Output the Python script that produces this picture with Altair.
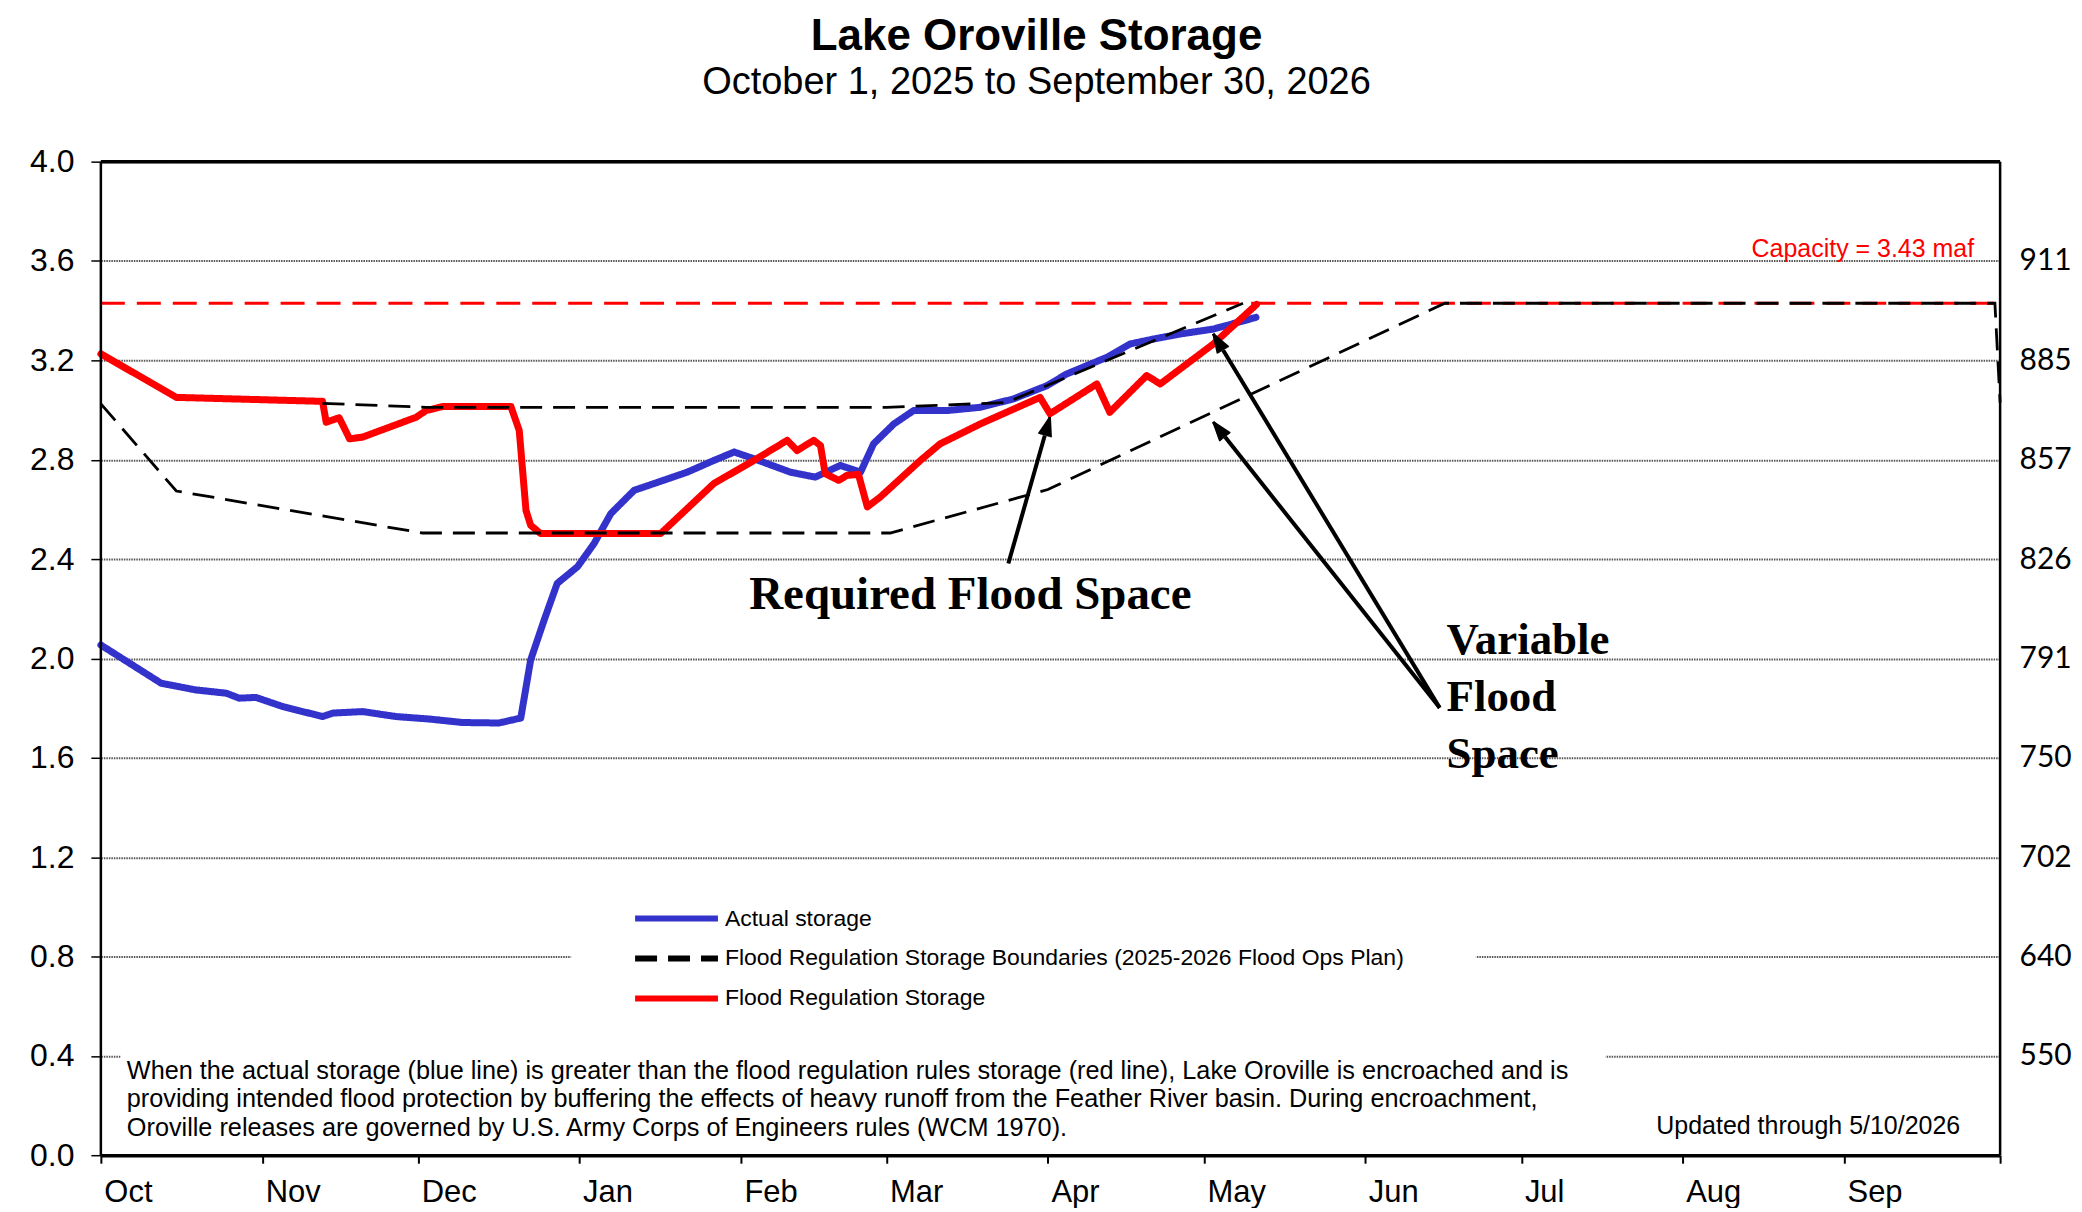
import math
import altair as alt
import pandas as pd

# ---------------- data ----------------
# days since October 1, 2025
actual_day = [0, 5.5, 11.6, 18.3, 24.1, 26.6, 29.8, 35, 42.6, 44.6, 50.3, 56.7, 63.1, 69.5,
              76.5, 80.7, 82.6, 85.2, 87.7, 91.6, 94.8, 98, 102.5, 106.3, 112.7, 117.8, 121.7,
              125.5, 132.5, 137.3, 142.1, 146, 148.5, 152.4, 156.2, 162.6, 169, 175.4, 181.8,
              185.6, 193.3, 197.8, 202.3, 207.4, 213.8, 222]
actual_val = [2.054, 1.981, 1.900, 1.873, 1.860, 1.840, 1.843, 1.806, 1.766, 1.780, 1.786, 1.766,
              1.756, 1.742, 1.740, 1.760, 1.994, 2.155, 2.302, 2.369, 2.463, 2.583, 2.677, 2.704,
              2.750, 2.797, 2.831, 2.804, 2.750, 2.730, 2.777, 2.750, 2.864, 2.944, 2.998, 2.998,
              3.011, 3.045, 3.098, 3.145, 3.212, 3.266, 3.286, 3.306, 3.326, 3.373]

reg_day = [0, 14.5, 42.6, 43.3, 45.8, 47.8, 50.3, 60.6, 62.5, 65.7, 78.8, 80.4, 81.7, 82.6,
           84.5, 107.6, 117.8, 125.5, 131.9, 133.8, 137.0, 138.3, 139.2, 141.8, 143.4, 145.6,
           147.3, 149.8, 157.5, 161.3, 169, 180.5, 182.4, 191.4, 193.9, 201, 203.6, 213.8, 222.1]
reg_val = [3.226, 3.051, 3.035, 2.951, 2.969, 2.884, 2.891, 2.971, 2.998, 3.014, 3.014, 2.918,
           2.596, 2.536, 2.503, 2.503, 2.704, 2.797, 2.878, 2.837, 2.878, 2.857, 2.744, 2.717,
           2.737, 2.741, 2.610, 2.650, 2.797, 2.864, 2.944, 3.051, 2.985, 3.105, 2.991, 3.139,
           3.105, 3.266, 3.425]

upper_day = [42.6, 62.5, 151, 174, 219.5]
upper_val = [3.027, 3.011, 3.011, 3.030, 3.43]
lower_day = [0, 14.5, 61.8, 151.7, 182, 258.3, 364, 365]
lower_val = [3.025, 2.674, 2.505, 2.505, 2.680, 3.43, 3.43, 3.03]

capacity = 3.43
series_names = ["Actual storage",
                "Flood Regulation Storage Boundaries (2025-2026 Flood Ops Plan)",
                "Flood Regulation Storage"]
series_colors = ["#3333CC", "#000000", "#FF0000"]

y_ticks = [0.0, 0.4, 0.8, 1.2, 1.6, 2.0, 2.4, 2.8, 3.2, 3.6, 4.0]
elev_ticks = [0.4, 0.8, 1.2, 1.6, 2.0, 2.4, 2.8, 3.2, 3.6]
elev_labels = ["550", "640", "702", "750", "791", "826", "857", "885", "911"]

title_text = "Lake Oroville Storage"
subtitle_text = "October 1, 2025 to September 30, 2026"
capacity_text = "Capacity = 3.43 maf"
updated_text = "Updated through 5/10/2026"
footnote_lines = [
    "When the actual storage (blue line) is greater than the flood regulation rules storage (red line), Lake Oroville is encroached and is",
    "providing intended flood protection by buffering the effects of heavy runoff from the Feather River basin. During encroachment,",
    "Oroville releases are governed by U.S. Army Corps of Engineers rules (WCM 1970).",
]

# annotation texts and arrows (day, value)
req_text = "Required Flood Space"
req_pos = (167.1, 2.255)
var_lines = ["Variable", "Flood", "Space"]
var_pos = [(258.6, 2.074), (258.6, 1.845), (258.6, 1.616)]
arrows = [((174.4, 2.382), (182.4, 2.971)),
          ((257.3, 1.801), (213.8, 3.306)),
          ((257.3, 1.801), (213.8, 2.951))]

# ---------------- helpers ----------------
W, H = 1902, 995
BASE = pd.Timestamp("2025-10-01")
SPAN = 365.0
YMAX = 4.0
FONT = "Liberation Sans"


def to_date(d):
    return (BASE + pd.to_timedelta(d, unit="D")).strftime("%Y-%m-%dT%H:%M:%S")


def px(d):
    return d / SPAN * W


def py(v):
    return (1 - v / YMAX) * H


def day_of(x):
    return x / W * SPAN


def val_of(y):
    return (1 - y / H) * YMAX


def frame(days, vals, series, seg):
    return pd.DataFrame({"date": [to_date(d) for d in days], "value": vals,
                         "series": series, "seg": seg})


actual_df = frame(actual_day, actual_val, series_names[0], "a")
reg_df = frame(reg_day, reg_val, series_names[2], "r")
bound_df = pd.concat([frame(upper_day, upper_val, series_names[1], "upper"),
                      frame(lower_day, lower_val, series_names[1], "lower")], ignore_index=True)
cap_df = frame([0, SPAN], [capacity, capacity], "cap", "cap")

xscale = alt.Scale(domain=[alt.DateTime(year=2025, month=10, date=1),
                           alt.DateTime(year=2026, month=10, date=1)])
yscale = alt.Scale(domain=[0, 4])

x_axis = alt.Axis(
    values=[alt.DateTime(year=2025 + (9 + i) // 12, month=(9 + i) % 12 + 1, date=1) for i in range(13)],
    labelExpr="(month(datum.value) == 9 && year(datum.value) == 2026) ? '' : timeFormat(datum.value, '%b')",
    labelAlign="left", labelOffset=3, labelFont=FONT, labelFontSize=31, labelColor="black",
    labelPadding=14, labelFlush=False, labelOverlap=False,
    tickSize=8, tickWidth=2, tickColor="black",
    domain=True, domainColor="black", domainWidth=3.5, grid=False, title=None)

y_axis_left = alt.Axis(
    orient="left", values=y_ticks, format=".1f", labelFont=FONT, labelFontSize=32,
    labelColor="black", labelPadding=17, tickColor="black", tickSize=10, tickWidth=1.5,
    domain=False, grid=True, gridColor="#555555", gridDash=[1.5, 1], gridWidth=2, title=None)

labels_js = "[" + ",".join("'%s'" % s for s in elev_labels) + "]"
y_axis_right = alt.Axis(
    orient="right", values=elev_ticks,
    labelExpr=labels_js + "[round(datum.value * 2.5) - 1]",
    labelFont="Lato", labelFontSize=30, labelColor="black", labelPadding=19,
    ticks=False, domain=False, grid=False, title=None)

color_enc = alt.Color("series:N", scale=alt.Scale(domain=series_names, range=series_colors),
                      legend=alt.Legend(title=None, orient="none", legendX=532, legendY=748,
                                        symbolType="stroke", symbolSize=83 * 83,
                                        clipHeight=20, rowPadding=17, labelOffset=4,
                                        labelFont=FONT, labelFontSize=23, labelColor="black",
                                        labelLimit=900, padding=0, symbolStrokeWidth=6))
dash_enc = alt.StrokeDash("series:N", scale=alt.Scale(domain=series_names,
                                                      range=[[1, 0], [22, 11], [1, 0]]),
                          legend=alt.Legend(title=None))

one = pd.DataFrame({"k": [0]})

# white boxes behind legend and footnote (they hide the grid lines there)
boxes = pd.DataFrame({
    "d0": [to_date(day_of(471)), to_date(day_of(20))],
    "d1": [to_date(day_of(1377)), to_date(day_of(1507))],
    "v0": [val_of(729), val_of(881)],
    "v1": [val_of(861), val_of(981)],
})
box_layer = alt.Chart(boxes).mark_rect(color="white").encode(
    x=alt.X("d0:T", scale=xscale, axis=None), x2="d1",
    y=alt.Y("v0:Q", scale=yscale, axis=None), y2="v1")

blue = alt.Chart(actual_df).mark_line(strokeJoin="round", strokeCap="round", strokeWidth=7).encode(
    x=alt.X("date:T", scale=xscale, axis=x_axis),
    y=alt.Y("value:Q", scale=yscale, axis=y_axis_left),
    color=color_enc, strokeDash=dash_enc)

red = alt.Chart(reg_df).mark_line(strokeJoin="round", strokeCap="round", strokeWidth=7).encode(
    x=alt.X("date:T", scale=xscale, axis=None),
    y=alt.Y("value:Q", scale=yscale, axis=None),
    color=color_enc, strokeDash=dash_enc)

cap = alt.Chart(cap_df).mark_line(color="#FF0000", strokeWidth=3, strokeDash=[24, 12]).encode(
    x=alt.X("date:T", scale=xscale, axis=None),
    y=alt.Y("value:Q", scale=yscale, axis=y_axis_right))

black = alt.Chart(bound_df).mark_line(strokeWidth=2.8).encode(
    x=alt.X("date:T", scale=xscale, axis=None),
    y=alt.Y("value:Q", scale=yscale, axis=None),
    detail="seg:N",
    color=color_enc, strokeDash=dash_enc)

# frame of the plot area (top, left, right)
frame_top = alt.Chart(one).mark_rule(color="black", strokeWidth=3.5).encode(
    x=alt.value(0), x2=alt.value(W), y=alt.value(0))
frame_left = alt.Chart(one).mark_rule(color="black", strokeWidth=2.5).encode(
    x=alt.value(0), y=alt.value(0), y2=alt.value(H))
frame_right = alt.Chart(one).mark_rule(color="black", strokeWidth=2.5).encode(
    x=alt.value(W), y=alt.value(0), y2=alt.value(H))

layers = [box_layer, blue, red, cap, black, frame_top, frame_left, frame_right]

# arrows: shaft plus a fan of short strokes forming a filled head
rows = []
k = 0
for (d0, v0), (d1, v1) in arrows:
    tx, ty = px(d1), py(v1)
    dx, dy = tx - px(d0), ty - py(v0)
    L = math.hypot(dx, dy)
    ux, uy = dx / L, dy / L
    nx, ny = -uy, ux
    bx, by = tx - 19 * ux, ty - 19 * uy
    rows += [{"id": k, "o": 0, "d": to_date(d0), "v": v0, "w": 4},
             {"id": k, "o": 1, "d": to_date(day_of(bx)), "v": val_of(by), "w": 4}]
    k += 1
    for j in range(-4, 5):
        off = j * 1.6
        rows += [{"id": k, "o": 0, "d": to_date(day_of(bx + off * nx)), "v": val_of(by + off * ny), "w": 2},
                 {"id": k, "o": 1, "d": to_date(day_of(tx)), "v": val_of(ty), "w": 2}]
        k += 1
arrow_df = pd.DataFrame(rows)
shafts = alt.Chart(arrow_df[arrow_df["w"] == 4]).mark_line(color="black", strokeWidth=4).encode(
    x=alt.X("d:T", scale=xscale, axis=None),
    y=alt.Y("v:Q", scale=yscale, axis=None),
    detail="id:N", order="o:Q")
heads = alt.Chart(arrow_df[arrow_df["w"] == 2]).mark_line(color="black", strokeWidth=2).encode(
    x=alt.X("d:T", scale=xscale, axis=None),
    y=alt.Y("v:Q", scale=yscale, axis=None),
    detail="id:N", order="o:Q")
layers += [shafts, heads]

req_df = pd.DataFrame({"d": [to_date(req_pos[0])], "v": [req_pos[1]], "t": [req_text]})
layers.append(alt.Chart(req_df).mark_text(
    font="Liberation Serif", fontSize=47, fontWeight="bold", align="center", baseline="middle",
    color="black").encode(
    x=alt.X("d:T", scale=xscale, axis=None), y=alt.Y("v:Q", scale=yscale, axis=None), text="t:N"))

var_df = pd.DataFrame({"d": [to_date(p[0]) for p in var_pos], "v": [p[1] for p in var_pos],
                       "t": var_lines})
layers.append(alt.Chart(var_df).mark_text(
    font="Liberation Serif", fontSize=45, fontWeight="bold", align="left", baseline="middle",
    color="black").encode(
    x=alt.X("d:T", scale=xscale, axis=None), y=alt.Y("v:Q", scale=yscale, axis=None), text="t:N"))

for i, line in enumerate(footnote_lines):
    layers.append(alt.Chart(one).mark_text(
        font=FONT, fontSize=25.3, align="left", baseline="middle", color="black").encode(
        x=alt.value(26), y=alt.value(910.5 + i * 28.5), text=alt.value(line)))
layers.append(alt.Chart(one).mark_text(
    font=FONT, fontSize=25, align="right", baseline="middle", color="black").encode(
    x=alt.value(1862), y=alt.value(966), text=alt.value(updated_text)))
layers.append(alt.Chart(one).mark_text(
    font=FONT, fontSize=25, align="right", baseline="middle", color="#FF0000").encode(
    x=alt.value(1876), y=alt.value(87), text=alt.value(capacity_text)))

chart = alt.layer(*layers).resolve_axis(x="independent", y="independent").properties(
    width=W, height=H,
    padding={"left": 21, "top": 6, "right": 2, "bottom": 0},
    title=alt.TitleParams(text=title_text, subtitle=subtitle_text, font=FONT, fontSize=44,
                          fontWeight="bold", color="black", subtitleFont=FONT,
                          subtitleFontSize=38, subtitleColor="black", anchor="middle",
                          subtitlePadding=5, offset=44, dx=-14),
).configure_view(stroke="black", strokeWidth=3).configure(background="white")

chart.save("out.html", embed_options={"renderer": "svg", "actions": False})
